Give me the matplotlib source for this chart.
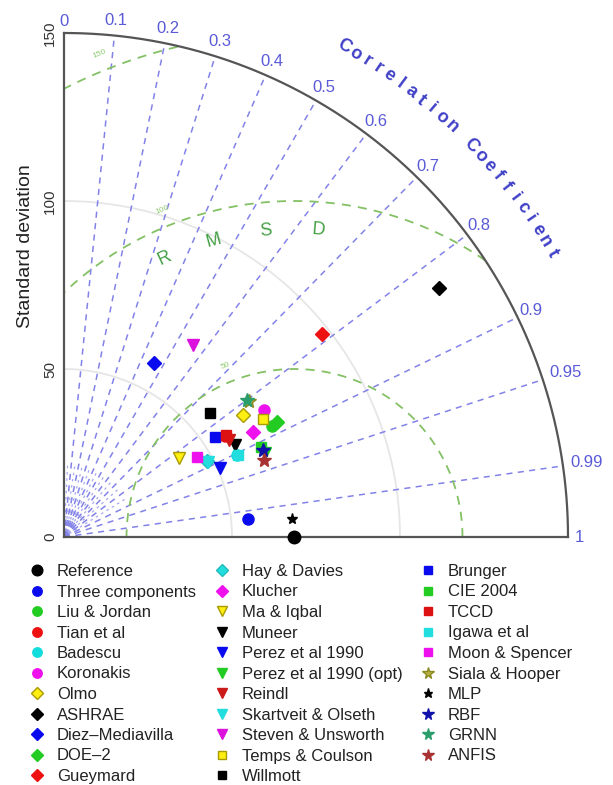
import numpy as np
import matplotlib
matplotlib.use('Agg')
import matplotlib.pyplot as plt
from matplotlib.lines import Line2D

plt.rcParams['font.family'] = ['Liberation Sans', 'DejaVu Sans']

# ---------------- data ----------------
models = ['Reference', 'Three components', 'Liu & Jordan', 'Tian et al', 'Badescu',
          'Koronakis', 'Olmo', 'ASHRAE', 'Diez\u2013Mediavilla', 'DOE\u20132', 'Gueymard',
          'Hay & Davies', 'Klucher', 'Ma & Iqbal', 'Muneer', 'Perez et al 1990',
          'Perez et al 1990 (opt)', 'Reindl', 'Skartveit & Olseth', 'Steven & Unsworth',
          'Temps & Coulson', 'Willmott', 'Brunger', 'CIE 2004', 'TCCD', 'Igawa et al',
          'Moon & Spencer', 'Siala & Hooper', 'MLP', 'RBF', 'GRNN', 'ANFIS']
std_dev = [68.6, 54.9, 70.2, 56.6, 57.0,
           70.4, 64.4, 134.1, 58.2, 72.0, 97.7,
           48.1, 64.2, 41.5, 57.7, 50.6,
           64.9, 57.1, 48.3, 68.7,
           68.7, 56.9, 53.8, 64.4, 56.9, 57.2,
           46.1, 68.3, 68.2, 64.5, 68.0, 63.7]
corr = [1.000, 0.995, 0.883, 0.848, 0.903,
        0.844, 0.827, 0.833, 0.459, 0.880, 0.787,
        0.883, 0.874, 0.824, 0.881, 0.915,
        0.922, 0.862, 0.887, 0.558,
        0.860, 0.763, 0.834, 0.909, 0.847, 0.904,
        0.857, 0.805, 0.997, 0.916, 0.799, 0.933]

ref_std = 68.6
max_std = 150
std_grid = [50, 100]
rmsd_levels = [50, 100, 150]
corr_lines = [0.1, 0.2, 0.3, 0.4, 0.5, 0.6, 0.7, 0.8, 0.9, 0.95, 0.99]
corr_minor = [0.05, 0.15, 0.25, 0.35, 0.45, 0.55, 0.65, 0.75, 0.85]
corr_labels = [0, 0.1, 0.2, 0.3, 0.4, 0.5, 0.6, 0.7, 0.8, 0.9, 0.95, 0.99, 1]
std_ticks = [0, 50, 100, 150]

# ---------------- styles ----------------
colors = ['#000000', '#0a0aee', '#22cc22', '#ee1111', '#11dddd',
          '#ee11ee', '#ffee11', '#000000', '#0a0aee', '#22cc22', '#ee1111',
          '#22dddd', '#ee11ee', '#ffee11', '#000000', '#0a0aee',
          '#22cc22', '#cc1a1a', '#22dddd', '#dd11dd',
          '#ffee11', '#000000', '#0a0aee', '#22cc22', '#dd1111', '#22dddd',
          '#ee11ee', '#b8b040', '#000000', '#1010aa', '#2a9e6a', '#a83232']
markers = ['o', 'o', 'o', 'o', 'o', 'o', 'D', 'D', 'D', 'D', 'D',
           'D', 'D', 'v', 'v', 'v', 'v', 'v', 'v', 'v', 's', 's',
           's', 's', 's', 's', 's', '*', '*', '*', '*', '*']
edge = ['#000000', '#0a0aee', '#22cc22', '#ee1111', '#11dddd',
        '#ee11ee', '#a89a00', '#000000', '#0a0aee', '#22cc22', '#ee1111',
        '#22bbbb', '#ee11ee', '#a89a00', '#000000', '#0a0aee',
        '#22cc22', '#cc1a1a', '#22dddd', '#dd11dd',
        '#a89a00', '#000000', '#0a0aee', '#22cc22', '#dd1111', '#22dddd',
        '#ee11ee', '#8a8a20', '#000000', '#1010aa', '#2a9e6a', '#a83232']
msize = [9, 8, 8, 8, 8, 8, 7.5, 7.5, 7.5, 7.5, 7.5, 7.5, 7.5, 8, 8, 8, 8, 8, 8, 8,
         7.5, 7.5, 7.5, 7.5, 7.5, 7.5, 7.5, 10, 8, 10, 10, 10]
lower = {'Liu & Jordan', 'Tian et al', 'Badescu', 'Hay & Davies', 'CIE 2004'}

corr_col = '#8282e8'
corr_txt = '#5a5ad8'
rmsd_col = '#84c064'
axis_col = '#555555'

fig = plt.figure(figsize=(6.13, 7.85), dpi=100)
ax = fig.add_axes([64 / 613, (785 - 537) / 785, 504 / 613, 504 / 785])
ax.set_xlim(0, max_std)
ax.set_ylim(0, max_std)
ax.axis('off')

t = np.linspace(0, np.pi / 2, 400)
# std grid arcs
for r in std_grid:
    ax.plot(r * np.cos(t), r * np.sin(t), color='#e6e6e6', lw=1.3, zorder=1)

# correlation lines
for c in corr_lines:
    th = np.arccos(c)
    ax.plot([0, max_std * np.cos(th)], [0, max_std * np.sin(th)], color=corr_col,
            lw=1.1, ls=(0, (4, 3.5)), zorder=2, clip_on=False)
for c in corr_minor:
    th = np.arccos(c)
    ax.plot([0, 22 * np.cos(th)], [0, 22 * np.sin(th)], color=corr_col,
            lw=0.9, ls=(0, (2, 3)), zorder=2, alpha=0.7)

# correlation tick labels
for c in corr_labels:
    th = np.arccos(c)
    lab = '%g' % c
    rr = {1: 153.5, 3: 154.5, 4: 157.0}[len(lab)]
    ax.text(rr * np.cos(th), rr * np.sin(th), lab, color=corr_txt, fontsize=12,
            ha='center', va='center', clip_on=False)

# RMSD arcs
phi = np.linspace(0, np.pi, 800)
for R in rmsd_levels:
    x = ref_std + R * np.cos(phi)
    y = R * np.sin(phi)
    m = (x >= 0) & (x ** 2 + y ** 2 <= max_std ** 2)
    x = np.where(m, x, np.nan)
    y = np.where(m, y, np.nan)
    ax.plot(x, y, color=rmsd_col, lw=1.3, ls=(0, (5, 4)), zorder=2, clip_on=False)
    pa = np.deg2rad(112)
    ax.text(ref_std + (R + 5) * np.cos(pa), (R + 5) * np.sin(pa), str(R),
            color='#90cc70', fontsize=6, rotation=22, ha='center', va='center')

# RMSD title letters
for ch, a in zip('RMSD', [115, 105.3, 95.4, 85.5]):
    ar = np.deg2rad(a)
    ax.text(ref_std + 91.5 * np.cos(ar), 91.5 * np.sin(ar), ch, color='#44a044',
            fontsize=13, rotation=a - 90, ha='center', va='center')

# outer arc and axes
ax.plot(max_std * np.cos(t), max_std * np.sin(t), color=axis_col, lw=1.6, zorder=3,
        clip_on=False)
ax.plot([0, 0], [0, max_std], color=axis_col, lw=1.6, zorder=3, clip_on=False)
ax.plot([0, max_std], [0, 0], color=axis_col, lw=1.6, zorder=3, clip_on=False)

# std ticks
for s in std_ticks:
    ax.text(-4.2, s, str(s), rotation=90, ha='center', va='center', fontsize=11,
            color='#333333', clip_on=False)
ax.text(-11.6, 86.6, 'Standard deviation', rotation=90, ha='center', va='center',
        fontsize=14, color='#222222', clip_on=False)

# Correlation Coefficient curved title
title = 'Correlation Coefficient'
angs = np.linspace(60.3, 30.2, len(title))
for ch, a in zip(title, angs):
    ar = np.deg2rad(a)
    ax.text(168 * np.cos(ar), 168 * np.sin(ar), ch, rotation=a - 90, color='#4040c8',
            fontsize=13, fontweight='bold', ha='center', va='center', clip_on=False)

# data points
for i, name in enumerate(models):
    s, c = std_dev[i], corr[i]
    xx = s * c
    yy = s * np.sqrt(max(0.0, 1 - c * c))
    ax.plot([xx], [yy], marker=markers[i], color=colors[i], markeredgecolor=edge[i],
            markersize=msize[i], ls='none', zorder=4 if name not in lower else 3.5,
            clip_on=False)

# legend
handles = [Line2D([], [], marker=markers[i], color=colors[i], markeredgecolor=edge[i],
                  ls='none', markersize=msize[i] * 0.85) for i in range(len(models))]
fig.legend(handles, models, ncol=3, loc='upper left',
           bbox_to_anchor=(29 / 613, 1 - 564 / 785), frameon=False, fontsize=12,
           handlelength=1.0, handletextpad=0.68, columnspacing=1.05,
           labelspacing=0.33, borderpad=0, borderaxespad=0, labelcolor='#222222')

fig.savefig('out.png', dpi=100)
